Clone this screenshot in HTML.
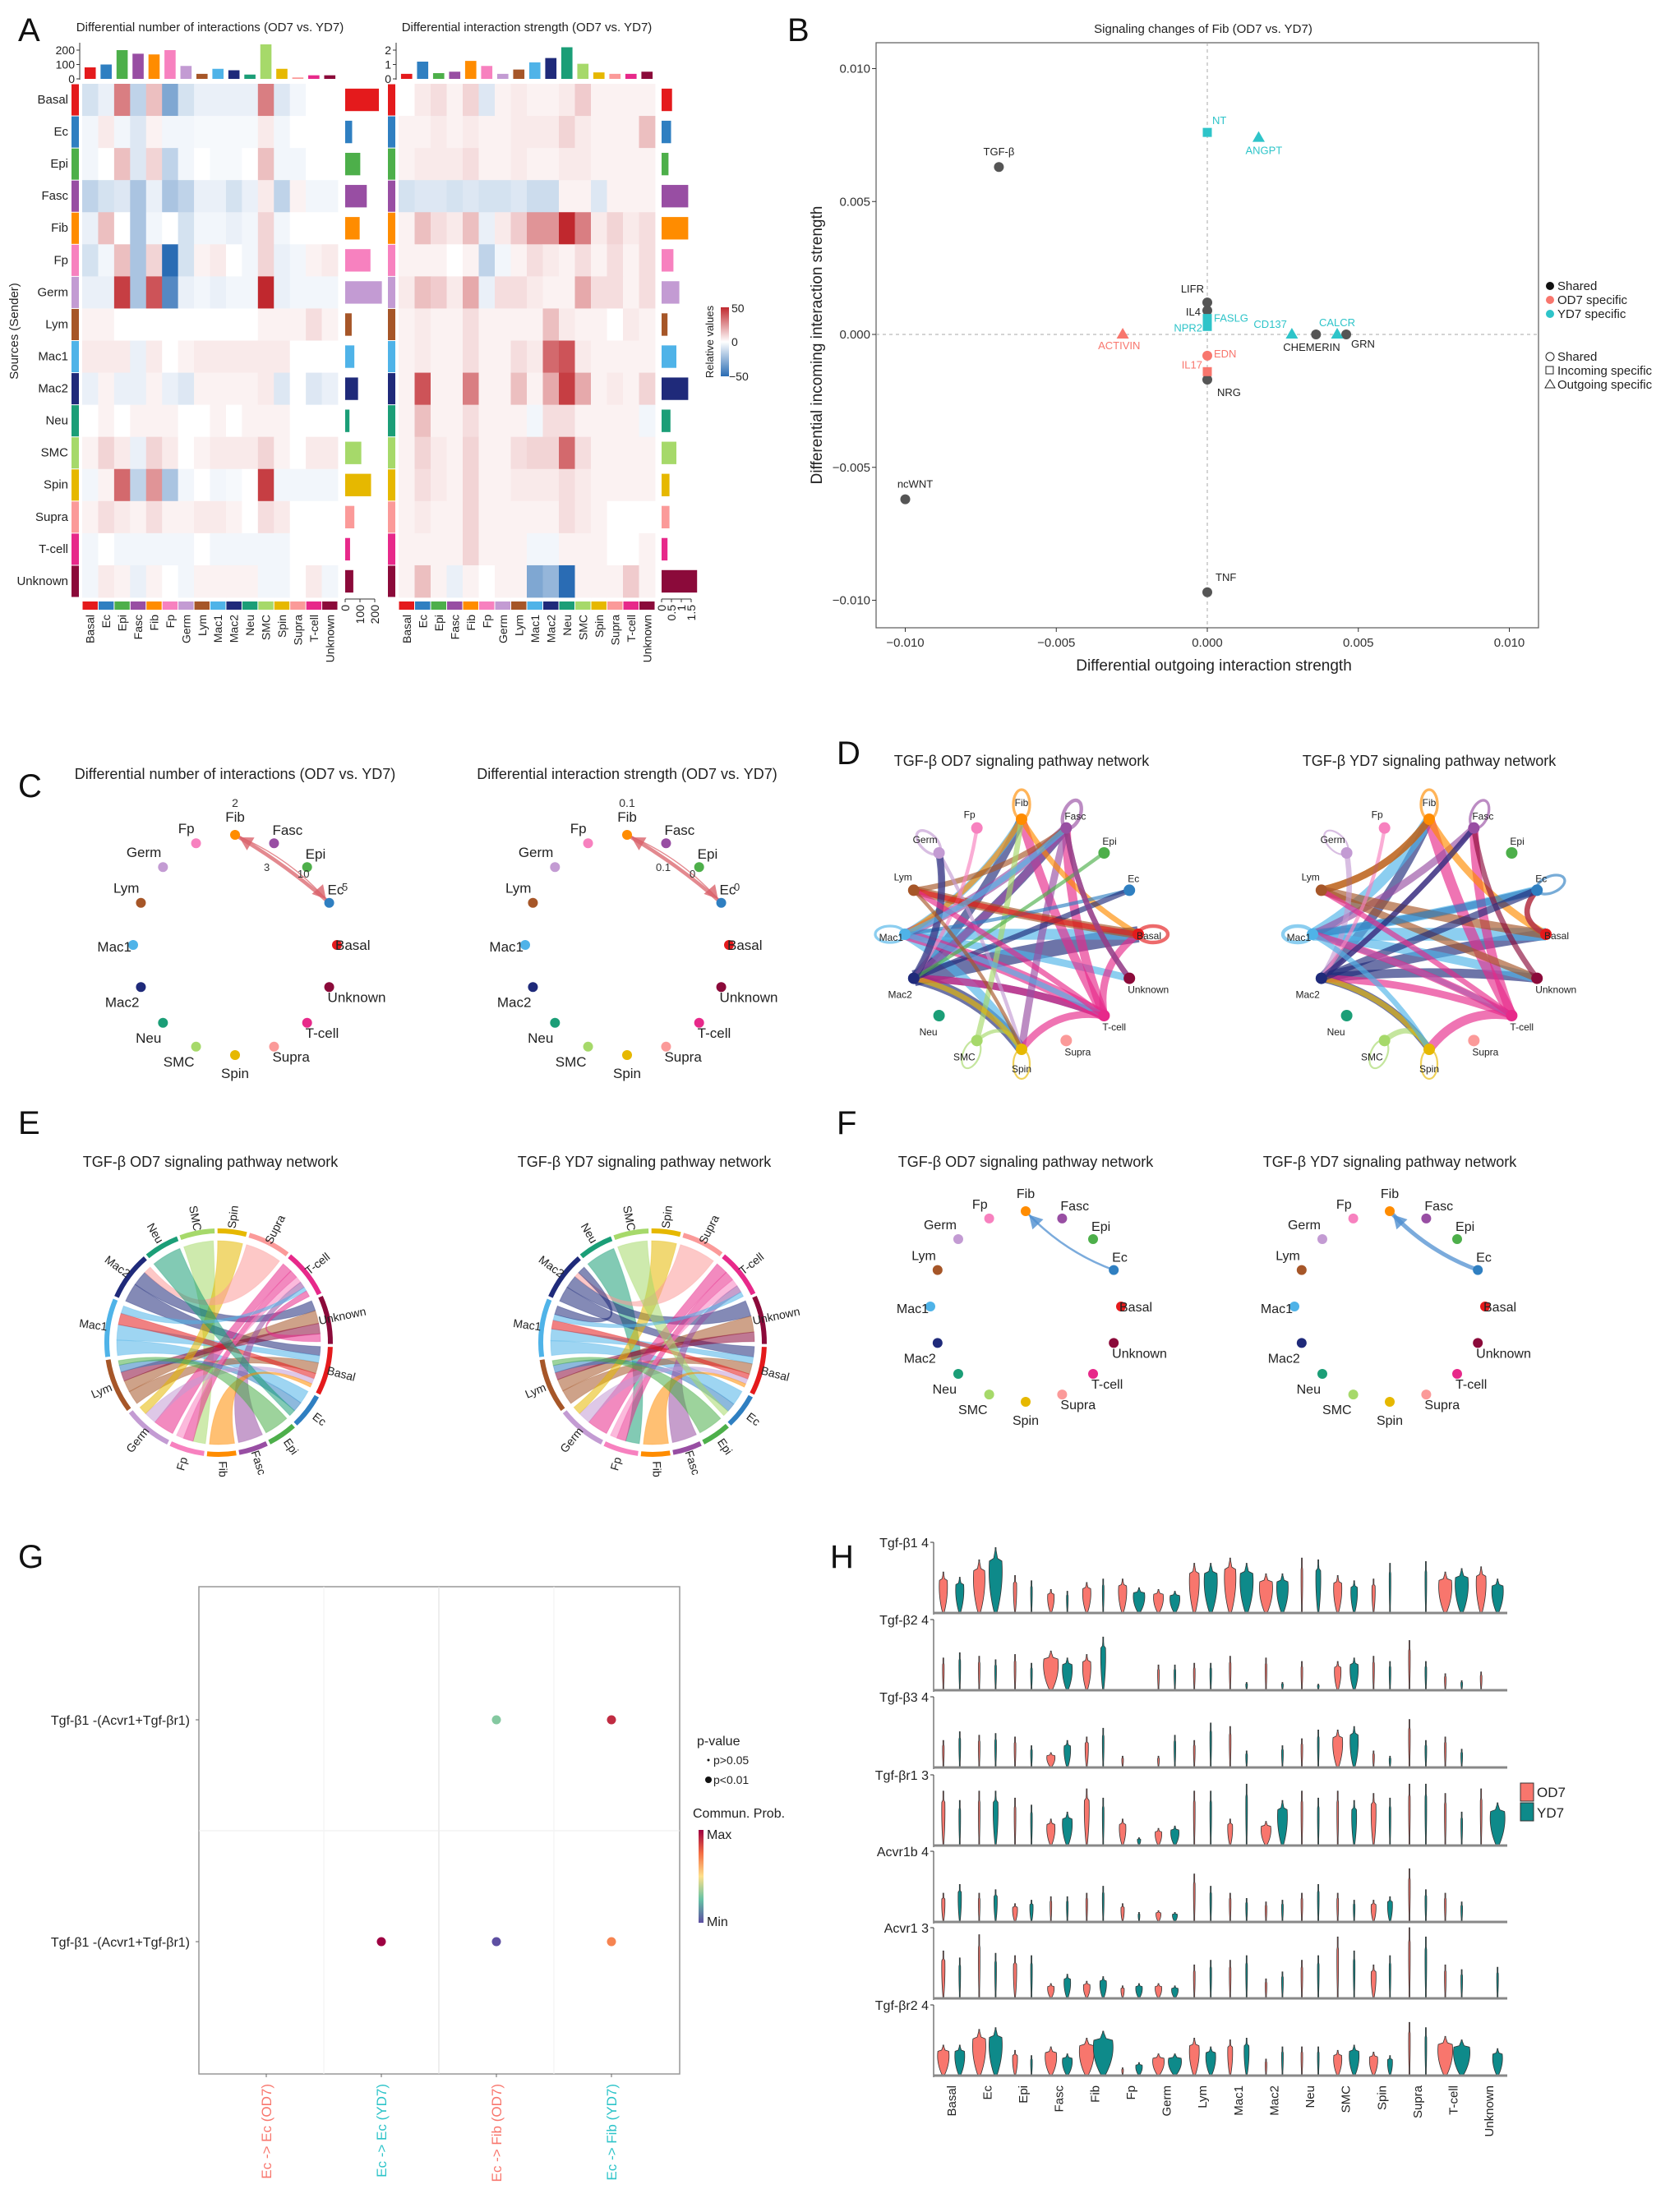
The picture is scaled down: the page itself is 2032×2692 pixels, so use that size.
<!DOCTYPE html>
<html><head><meta charset="utf-8"><style>
html,body{margin:0;padding:0;background:#fff;}
svg{display:block;font-family:"Liberation Sans",Arial,sans-serif;}
</style></head><body>
<svg id="fig" xmlns="http://www.w3.org/2000/svg" width="2032" height="2692" viewBox="0 0 2032 2692">
<defs>
<linearGradient id="relgrad" x1="0" y1="0" x2="0" y2="1"><stop offset="0" stop-color="#c0282e"/><stop offset="0.5" stop-color="#ffffff"/><stop offset="1" stop-color="#2a6cb4"/></linearGradient>
<linearGradient id="probgrad" x1="0" y1="0" x2="0" y2="1"><stop offset="0" stop-color="#9e0142"/><stop offset="0.25" stop-color="#f46d43"/><stop offset="0.5" stop-color="#fee08b"/><stop offset="0.75" stop-color="#66c2a5"/><stop offset="1" stop-color="#5e4fa2"/></linearGradient>
</defs>
</svg>
<script>
// ---------- data ----------
const cells=["Basal","Ec","Epi","Fasc","Fib","Fp","Germ","Lym","Mac1","Mac2","Neu","SMC","Spin","Supra","T-cell","Unknown"];
const cellColors=["#e41a1c","#2f7fc1","#4daf4a","#984ea3","#ff8c00","#f781bf","#c39bd3","#a65628","#4fb3e8","#1f2a7a","#1b9e77","#a6d96a","#e6b800","#fb9a99","#e7298a","#8b0a3a"];
const countMat=[
[-10,-5,30,-15,15,-30,-10,-5,-5,-5,-5,30,-8,-3,0,0],
[-3,5,-3,-8,3,-3,-3,-2,-2,-2,-2,5,-3,0,0,0],
[-3,0,15,-8,10,-15,-3,0,-2,-2,0,15,-3,-3,0,0],
[-15,-10,-8,-20,-5,-20,-15,-5,-5,-10,-5,5,-15,3,-3,-3],
[-5,15,0,-20,-3,0,-10,-3,-3,-5,-3,10,-3,0,0,0],
[-10,-3,15,-20,10,-55,-10,3,5,0,-3,10,-5,-3,3,5],
[-5,-5,45,-20,40,-40,-5,-3,-5,-3,-3,50,-5,-3,-3,-3],
[3,3,0,0,0,0,0,0,0,0,0,3,3,3,8,3],
[5,5,5,-5,5,0,3,5,5,5,5,5,5,0,0,0],
[-5,3,-5,-5,3,-5,-8,3,3,3,3,5,-8,0,-8,-5],
[0,3,0,3,3,3,0,0,3,0,3,3,3,0,0,0],
[3,10,5,-5,10,5,0,3,5,5,5,10,3,0,5,5],
[-3,3,35,-15,25,-20,-3,0,-3,-2,0,45,-3,-3,-3,-3],
[3,8,5,3,8,3,3,5,5,3,0,8,5,0,0,0],
[-3,0,-3,-3,-3,-3,-3,0,-3,-3,-3,-3,-3,0,0,0],
[-3,5,3,-5,3,0,-3,3,3,3,3,-3,-3,0,5,-3]];
const strengthMat=[
[0,5,8,3,10,-8,3,5,3,3,5,12,3,3,3,3],
[3,3,5,3,5,3,3,5,5,5,10,5,3,3,3,15],
[3,5,5,5,8,3,3,5,3,3,5,5,3,3,3,3],
[-10,-8,-8,-10,-8,-10,-10,-8,-12,-12,3,3,-8,3,3,3],
[3,15,8,5,15,-5,5,12,25,25,50,30,5,10,5,8],
[3,3,3,0,3,-15,-3,3,8,5,3,8,3,8,3,8],
[5,15,12,5,20,-5,8,8,5,3,3,20,8,8,3,8],
[3,5,3,3,8,3,3,3,3,15,5,3,3,0,5,3],
[3,5,3,3,8,3,3,8,5,35,40,5,3,3,3,3],
[3,40,3,3,30,3,3,15,3,20,45,20,3,5,3,10],
[3,15,3,3,8,3,3,3,-3,8,8,3,3,3,3,-3],
[3,10,5,3,10,3,3,8,10,10,35,8,3,3,3,3],
[3,8,5,3,10,3,3,5,5,5,8,5,3,3,3,3],
[3,5,3,3,10,3,3,3,3,3,8,5,3,0,0,0],
[3,3,3,3,10,3,3,3,-3,-3,3,3,3,0,0,3],
[3,15,3,-5,3,0,3,3,-30,-25,-55,3,3,3,12,3]];
const countColSums=[80,100,200,175,170,200,90,35,70,60,30,240,70,10,25,25];
const strengthColSums=[0.35,1.2,0.4,0.5,1.25,0.9,0.35,0.65,1.15,1.45,2.2,1.05,0.45,0.35,0.35,0.5];
const countRowSums=[228,47,102,146,98,171,248,44,62,87,29,109,175,62,33,55];
const strengthRowSums=[0.53,0.48,0.35,1.35,1.35,0.6,0.9,0.3,0.75,1.35,0.45,0.75,0.4,0.4,0.3,1.8];
const countTicks=[0,100,200];
const strengthTicks=[0,1,2];
const countRowTicks=[0,100,200];
const strengthRowTicks=[0,0.5,1,1.5];

// Panel B
const bNames=["TGF-β","ncWNT","TNF","NRG","LIFR","IL4","CHEMERIN","GRN","NT","ANGPT","FASLG","NPR2","CD137","CALCR","ACTIVIN","EDN","IL17"];
const bX=[-0.0069,-0.0100,0,0,0,0,0.0036,0.0046,0,0.0017,0,0,0.0028,0.0043,-0.0028,0,0];
const bY=[0.0063,-0.0062,-0.0097,-0.0017,0.0012,0.0009,0,0,0.0076,0.0074,0.0006,0.0003,0,0,0,-0.0008,-0.0014];
const bGroup=[0,0,0,0,0,0,0,0,2,2,2,2,2,2,1,1,1];
const bShape=[0,0,0,0,0,0,0,0,1,2,1,1,2,2,2,0,1];
const bTicks=[-0.010,-0.005,0.000,0.005,0.010];

// Panel D networks (source, target, weight)
const odSrc=[9,9,9,9,9,8,8,8,8,14,14,14,14,14,3,3,3,4,4,7,7,6,6,11,11,12,1,0,15,9,8,14,5,2,4,3,6,8,0,12,11,9,14,8,3,7];
const odTgt=[0,4,3,14,12,0,4,15,12,4,3,9,8,0,8,9,12,0,8,0,3,9,12,4,12,9,8,0,3,1,14,12,9,9,4,3,6,8,7,12,11,6,7,3,15,12];
const odW=[9,5,5,4,6,6,4,4,5,5,5,4,6,4,5,4,4,3,3,5,3,3,2,3,2,3,2,4,3,3,3,4,2,2,3,4,3,3,3,2,2,4,3,3,3,2];
const ydSrc=[9,9,9,9,8,8,8,8,14,14,14,14,3,3,4,4,7,7,6,11,12,1,1,0,15,9,8,14,5,4,3,1,8,6,11,12,7,9,14,8];
const ydTgt=[0,4,15,12,0,4,15,1,4,3,9,12,8,9,0,7,0,15,9,12,9,8,0,1,3,1,14,8,9,4,3,1,8,6,11,12,4,3,7,12];
const ydW=[6,5,5,4,7,6,5,5,6,5,4,5,4,3,4,4,5,4,3,3,3,4,3,3,3,4,3,4,2,3,3,3,4,2,2,2,4,3,3,3];

// Panel E chords
const chordOrder=[11,12,13,14,15,0,1,2,3,4,5,6,7,8,9,10];
const chordSizes=[18,15,22,25,25,25,18,15,15,15,18,25,28,30,25,18];
const odChSrc=[11,9,9,8,8,7,7,14,14,15,5,0,1,3,6,12,13,10,4,2,8,14];
const odChTgt=[5,0,15,1,0,0,15,6,5,7,14,8,7,14,0,6,9,1,0,7,14,15];
const odChW=[5,5,4,4,4,6,5,5,4,4,3,3,3,3,3,2,2,2,2,2,2,3];
const ydChSrc=[10,9,9,8,8,7,7,14,14,15,5,0,1,3,6,12,13,11,4,2,8,9];
const ydChTgt=[5,0,15,1,0,0,15,6,5,7,14,8,7,14,0,6,9,1,0,7,14,8];
const ydChW=[6,6,5,5,4,6,5,5,4,3,3,3,3,3,3,2,2,2,2,2,2,3];

// Panel C/F edges
const cSrc=[1,4]; const cTgt=[4,1]; const cW=[10,3];

// Panel G
const gCols=["Ec -> Ec (OD7)","Ec -> Ec (YD7)","Ec -> Fib (OD7)","Ec -> Fib (YD7)"];
const gRows=["Tgf-β1 -(Acvr1+Tgf-βr1)","Tgf-β1 -(Acvr1+Tgf-βr1)"];
const gDotRow=[0,0,1,1,1];
const gDotCol=[2,3,1,2,3];
const gDotProb=[0.3,0.9,1.0,0.0,0.7];

// Panel H violins
const genes=["Tgf-β1","Tgf-β2","Tgf-β3","Tgf-βr1","Acvr1b","Acvr1","Tgf-βr2"];
const geneMax=[4,4,4,3,4,3,4];
const odH=[
[2.3,3.0,2.1,1.3,1.7,1.9,1.3,2.8,3.1,2.2,3.1,2.1,1.9,0,2.3,2.6],
[1.8,1.9,2.0,2.2,2.0,0,1.4,1.5,1.9,1.8,1.6,1.6,1.9,2.8,0.9,1.0],
[1.5,1.8,1.7,0.8,1.7,0.6,0.6,1.5,2.3,0,1.6,2.1,0.9,2.7,1.7,0],
[2.3,2.3,2.0,1.1,2.4,1.1,0.7,2.3,1.1,1.0,2.3,2.3,2.2,2.6,2.2,2.4],
[1.6,1.6,1.0,1.4,1.6,1.0,0.6,2.7,1.6,1.1,1.6,1.6,1.2,3.0,1.6,0],
[2.0,2.7,1.8,0.6,0.7,0.5,0.6,1.4,1.6,0.8,1.6,2.6,1.4,3.0,1.4,0],
[1.7,2.6,1.4,1.6,2.1,0.4,1.2,2.1,2.0,0.9,1.6,1.4,1.3,3.0,2.2,0]];
const odWd=[
[5,7,2,4,5,5,6,6,7,8,1,5,2,0,8,6],
[1,1,1,9,5,0,1,1,1,1,1,4,1,1,1,1],
[1,1,1,5,2,1,1,1,1,0,1,6,1,1,1,0],
[2,1,1,5,3,4,4,1,3,6,1,1,3,1,1,1],
[2,1,3,1,1,2,3,1,1,1,1,1,3,1,1,0],
[2,1,2,4,4,2,4,1,1,1,1,1,3,1,1,0],
[7,8,3,7,9,1,7,6,3,1,1,5,5,1,9,0]];
const ydH=[
[2.0,3.7,1.8,1.2,1.9,1.4,1.2,2.8,2.8,2.2,3.0,1.8,2.8,2.9,2.5,1.9],
[2.1,1.7,1.5,1.8,3.0,0,1.4,1.5,0.4,0.4,0.3,1.8,1.6,1.6,0.5,0],
[2.0,1.9,1.2,1.5,2.2,0,1.8,2.5,0.9,1.2,2.1,2.3,0.6,1.5,1.0,0],
[1.9,2.3,1.7,1.4,2.0,0.3,0.8,2.3,2.6,1.9,2.0,1.9,2.0,2.6,1.4,1.8],
[2.1,1.8,1.2,1.4,2.0,0.5,0.5,2.0,1.3,1.2,2.1,1.2,1.4,1.8,1.1,0],
[1.7,1.9,1.8,1.0,0.9,0.6,0.5,1.6,1.8,1.1,1.8,2.0,1.8,2.6,1.2,1.3],
[1.7,2.7,1.1,1.2,2.5,0.7,1.2,1.6,2.1,1.6,1.6,1.7,1.1,2.7,2.0,1.5]];
const ydWd=[
[5,8,1,1,1,7,6,8,8,7,3,4,1,1,8,7],
[1,1,1,6,3,0,1,1,1,1,1,5,1,1,1,0],
[1,1,1,4,1,0,1,1,1,1,1,5,1,1,1,0],
[1,3,1,6,1,2,5,1,1,6,1,3,1,1,1,9],
[2,2,2,1,1,1,3,1,1,1,1,1,3,1,1,0],
[1,1,1,4,4,4,4,1,1,1,1,1,1,1,1,1],
[6,8,1,6,12,4,8,6,3,1,1,6,3,1,10,6]];

// ---------- helpers ----------
const NS='http://www.w3.org/2000/svg';
const svg=document.getElementById('fig');
function mk(tag,attrs,parent){const e=document.createElementNS(NS,tag);for(const k in attrs)e.setAttribute(k,attrs[k]);(parent||svg).appendChild(e);return e;}
function txt(x,y,s,attrs,parent){const e=mk('text',Object.assign({x:x,y:y},attrs||{}),parent);e.textContent=s;return e;}
function grp(name,parent){const g=mk('g',{},parent);return g;}
function lerp(a,b,t){return Math.round(a+(b-a)*t);}
function divColor(v){let t=Math.max(-1,Math.min(1,v/50));let c=t>=0?[192,40,46]:[42,108,180];t=Math.abs(t);return 'rgb('+lerp(255,c[0],t)+','+lerp(255,c[1],t)+','+lerp(255,c[2],t)+')';}
function probColor(p){const st=[[94,79,162],[102,194,165],[254,224,139],[244,109,67],[158,1,66]];const s=p*4;const i=Math.min(3,Math.floor(s));const t=s-i;return 'rgb('+lerp(st[i][0],st[i+1][0],t)+','+lerp(st[i][1],st[i+1][1],t)+','+lerp(st[i][2],st[i+1][2],t)+')';}

// ---------- panel letters ----------
[["A",22,50],["B",958,50],["C",22,970],["D",1018,930],["E",22,1380],["F",1018,1380],["G",22,1908],["H",1010,1908]].forEach(function(p){
  const t=txt(p[1],p[2],p[0],{'font-size':40,fill:'#111'});
  
  
});

// ---------- Panel A ----------
function heatPanel(opt){
  const g=grp(opt.name);
  const n=16, cw=opt.w/n, ch=625/n, y0=102;
  txt(opt.x0+opt.w/2,38,opt.title,{'font-size':15,'text-anchor':'middle',fill:'#222'},g);
  for(let r=0;r<n;r++)for(let c=0;c<n;c++){
    const e=mk('rect',{x:opt.x0+c*cw,y:y0+r*ch,width:cw+0.4,height:ch+0.4,fill:divColor(opt.mat[r][c])},g);
    
    
  }
  for(let i=0;i<n;i++){
    mk('rect',{x:opt.x0-13,y:y0+i*ch+0.5,width:9,height:ch-1,fill:cellColors[i]},g);
    mk('rect',{x:opt.x0+i*cw+0.5,y:732,width:cw-1,height:10,fill:cellColors[i]},g);
    const lb=txt(opt.x0+i*cw+cw/2+5,748,cells[i],{'font-size':14,'text-anchor':'end',fill:'#222',transform:'rotate(-90 '+(opt.x0+i*cw+cw/2+5)+' 748)'},g);
    
    
  }
  const tmax=opt.topTicks[opt.topTicks.length-1];
  const ty=function(v){return 96-v*(35/tmax);};
  for(let i=0;i<n;i++){
    const b=mk('rect',{x:opt.x0+i*cw+cw*0.15,y:ty(opt.colSums[i]),width:cw*0.7,height:96-ty(opt.colSums[i]),fill:cellColors[i]},g);
    
    
  }
  mk('line',{x1:opt.x0-3,y1:52,x2:opt.x0-3,y2:97,stroke:'#333','stroke-width':1},g);
  opt.topTicks.forEach(function(t){mk('line',{x1:opt.x0-7,y1:ty(t),x2:opt.x0-3,y2:ty(t),stroke:'#333'},g);txt(opt.x0-9,ty(t)+5,String(t),{'font-size':14,'text-anchor':'end',fill:'#222'},g);});
  const rx=opt.rbx, rmax=opt.rowTicks[opt.rowTicks.length-1];
  const rs=opt.rbw/rmax;
  for(let i=0;i<n;i++){
    const b=mk('rect',{x:rx,y:y0+i*ch+ch*0.15,width:opt.rowSums[i]*rs,height:ch*0.7,fill:cellColors[i]},g);
    
    
  }
  mk('line',{x1:rx,y1:729,x2:rx+opt.rbw,y2:729,stroke:'#333'},g);
  opt.rowTicks.forEach(function(t){const xx=rx+t*rs;mk('line',{x1:xx,y1:729,x2:xx,y2:733},g).setAttribute('stroke','#333');txt(xx+5,736,String(t),{'font-size':14,'text-anchor':'end',fill:'#222',transform:'rotate(-90 '+(xx+5)+' 736)'},g);});
  return g;
}
heatPanel({name:'heatmap-count',x0:100,w:311,mat:countMat,colSums:countColSums,rowSums:countRowSums,topTicks:countTicks,rowTicks:countRowTicks,rbx:420,rbw:36,title:'Differential number of interactions (OD7 vs. YD7)'});
heatPanel({name:'heatmap-strength',x0:485,w:312,mat:strengthMat,colSums:strengthColSums,rowSums:strengthRowSums,topTicks:strengthTicks,rowTicks:strengthRowTicks,rbx:805,rbw:36,title:'Differential interaction strength (OD7 vs. YD7)'});
(function(){
  const g=grp('heatmap-row-labels');
  for(let i=0;i<16;i++){const t=txt(83,102+i*39.06+24,cells[i],{'font-size':15,'text-anchor':'end',fill:'#222'},g);}
  const yt=txt(22,403,'Sources (Sender)',{'font-size':15,'text-anchor':'middle',fill:'#222',transform:'rotate(-90 22 403)'},g);
  
  
  const lg=grp('relative-values-legend');
  mk('rect',{x:877,y:374,width:10,height:84,fill:'url(#relgrad)'},lg);
  txt(890,380,'50',{'font-size':14,fill:'#222'},lg);
  txt(890,421,'0',{'font-size':14,fill:'#222'},lg);
  txt(887,463,'−50',{'font-size':14,fill:'#222'},lg);
  txt(868,416,'Relative values',{'font-size':13,'text-anchor':'middle',fill:'#222',transform:'rotate(-90 868 416)'},lg);
})();

// ---------- Panel B ----------
(function(){
  const g=grp('scatter-signaling-changes');
  const X0=1066,X1=1872,Y0=52,Y1=764;
  const sx=function(v){return 1469+v*36750;};
  const sy=function(v){return 407-v*32350;};
  txt(1464,40,'Signaling changes of Fib (OD7 vs. YD7)',{'font-size':15,'text-anchor':'middle',fill:'#222'},g);
  mk('rect',{x:X0,y:Y0,width:X1-X0,height:Y1-Y0,fill:'none',stroke:'#666','stroke-width':1.3},g);
  mk('line',{x1:sx(0),y1:Y0,x2:sx(0),y2:Y1,stroke:'#aaa','stroke-dasharray':'4,4'},g);
  mk('line',{x1:X0,y1:sy(0),x2:X1,y2:sy(0),stroke:'#aaa','stroke-dasharray':'4,4'},g);
  bTicks.forEach(function(t){
    const lab=(t<0?'−':'')+Math.abs(t).toFixed(3);
    mk('line',{x1:sx(t),y1:Y1,x2:sx(t),y2:Y1+5,stroke:'#333'},g);
    txt(sx(t),Y1+23,lab,{'font-size':15,'text-anchor':'middle',fill:'#333'},g);
    mk('line',{x1:X0-5,y1:sy(t),x2:X0,y2:sy(t),stroke:'#333'},g);
    txt(X0-7,sy(t)+5,lab,{'font-size':15,'text-anchor':'end',fill:'#333'},g);
  });
  const xt=txt(1477,816,'Differential outgoing interaction strength',{'font-size':19,'text-anchor':'middle',fill:'#222'},g);
  
  
  const yt=txt(1000,420,'Differential incoming interaction strength',{'font-size':19,'text-anchor':'middle',fill:'#222',transform:'rotate(-90 1000 420)'},g);
  
  
  const gcol=['#555555','#f8766d','#2ec4c9'];
  const ldx=[0,12,10,12,-4,-8,-40,6,6,-16,8,-6,-6,0,-30,8,-6];
  const ldy=[-14,-14,-14,20,-12,6,20,16,-10,20,4,6,-8,-10,18,2,-4];
  const lanc=['middle','middle','start','start','end','end','start','start','start','start','start','end','end','middle','start','start','end'];
  for(let i=0;i<bNames.length;i++){
    const x=sx(bX[i]),y=sy(bY[i]),c=gcol[bGroup[i]];
    let m;
    if(bShape[i]===0)m=mk('circle',{cx:x,cy:y,r:6,fill:c},g);
    else if(bShape[i]===1)m=mk('rect',{x:x-5.5,y:y-5.5,width:11,height:11,fill:c},g);
    else m=mk('polygon',{points:(x)+','+(y-8)+' '+(x-7.5)+','+(y+5)+' '+(x+7.5)+','+(y+5),fill:c},g);
    
    
    txt(x+ldx[i],y+ldy[i],bNames[i],{'font-size':13,'text-anchor':lanc[i],fill:bGroup[i]===0?'#222':c},g);
  }
  const lg=grp('scatter-legend',g);
  [['Shared','#111'],['OD7 specific','#f8766d'],['YD7 specific','#2ec4c9']].forEach(function(d,i){mk('circle',{cx:1886,cy:348+i*17,r:5,fill:d[1]},lg);txt(1895,353+i*17,d[0],{'font-size':15,fill:'#222'},lg);});
  mk('circle',{cx:1886,cy:434,r:5,fill:'none',stroke:'#222'},lg);txt(1895,439,'Shared',{'font-size':15,fill:'#222'},lg);
  mk('rect',{x:1881,y:446,width:9,height:9,fill:'none',stroke:'#222'},lg);txt(1895,456,'Incoming specific',{'font-size':15,fill:'#222'},lg);
  mk('polygon',{points:'1886,462 1880,472 1892,472',fill:'none',stroke:'#222'},lg);txt(1895,473,'Outgoing specific',{'font-size':15,fill:'#222'},lg);
})();

// ---------- circle layouts ----------
function nodePos(cx,cy,rx,ry,i){const a=i*22.5*Math.PI/180;return [cx+rx*Math.cos(a),cy-ry*Math.sin(a)];}
function circleNodes(g,cx,cy,rx,ry,fs,nr){
  for(let i=0;i<16;i++){
    const p=nodePos(cx,cy,rx,ry,i);
    const n=mk('circle',{cx:p[0],cy:p[1],r:nr,fill:cellColors[i]},g);
    
    
    const a=i*22.5*Math.PI/180,c=Math.cos(a),s=Math.sin(a);
    let anc='middle',dx=0,dy=0;
    if(c>0.3){anc='start';dx=-2;dy=s>0.3?-10:(s<-0.3?18:6);}
    else if(c<-0.3){anc='end';dx=-2;dy=s>0.3?-12:(s<-0.3?24:8);}
    else{dy=s>0?-16:28;}
    txt(p[0]+dx,p[1]+dy,cells[i],{'font-size':fs,'text-anchor':anc,fill:'#222'},g);
  }
}
function arrowEdge(g,p1,p2,bend,w,col,name){
  const mx=(p1[0]+p2[0])/2,my=(p1[1]+p2[1])/2,dx=p2[0]-p1[0],dy=p2[1]-p1[1];
  const qx=mx-dy*bend,qy=my+dx*bend;
  const e=mk('path',{d:'M'+p1[0]+','+p1[1]+' Q'+qx+','+qy+' '+p2[0]+','+p2[1],fill:'none',stroke:col,'stroke-width':w,'stroke-opacity':0.75},g);
  
  
  const ang=Math.atan2(p2[1]-qy,p2[0]-qx),L=16,W=9;
  const tx=p2[0]-Math.cos(ang)*6,ty=p2[1]-Math.sin(ang)*6;
  mk('polygon',{points:tx+','+ty+' '+(tx-L*Math.cos(ang)+W*Math.sin(ang))+','+(ty-L*Math.sin(ang)-W*Math.cos(ang))+' '+(tx-L*Math.cos(ang)-W*Math.sin(ang))+','+(ty-L*Math.sin(ang)+W*Math.cos(ang)),fill:col,'fill-opacity':0.8},g);
  return [qx,qy];
}

// ---------- Panel C ----------
[[286,'Differential number of interactions (OD7 vs. YD7)',['2','10','3','5']],[763,'Differential interaction strength (OD7 vs. YD7)',['0.1','0','0.1','0']]].forEach(function(cfg,k){
  const g=grp('diff-network-'+(k?'strength':'count'));
  const cx=cfg[0],cy=1150;
  txt(cx,948,cfg[1],{'font-size':18,'text-anchor':'middle',fill:'#222'},g);
  for(let e=0;e<cSrc.length;e++){
    const p1=nodePos(cx,cy,124,134,cSrc[e]),p2=nodePos(cx,cy,124,134,cTgt[e]);
    arrowEdge(g,p1,p2,e?-0.12:0.05,cW[e]*0.45,'#d9626a','edge-'+cells[cSrc[e]].toLowerCase()+'-'+cells[cTgt[e]].toLowerCase());
  }
  circleNodes(g,cx,cy,124,134,17,6);
  txt(cx,982,cfg[2][0],{'font-size':14,'text-anchor':'middle',fill:'#333'},g);
  txt(cx+76,1068,cfg[2][1],{'font-size':13,fill:'#333'},g);
  txt(cx+35,1060,cfg[2][2],{'font-size':13,fill:'#333'},g);
  txt(cx+130,1084,cfg[2][3],{'font-size':13,fill:'#333'},g);
});

// ---------- Panel D ----------
function network(cx,cy,title,src,tgt,w,name){
  const g=grp(name);
  txt(cx,932,title,{'font-size':18,'text-anchor':'middle',fill:'#222'},g);
  const rx=142,ry=140;
  for(let e=0;e<src.length;e++){
    const p1=nodePos(cx,cy,rx,ry,src[e]);
    let el;
    if(src[e]===tgt[e]){
      const a=src[e]*22.5*Math.PI/180,ox=Math.cos(a),oy=-Math.sin(a);
      el=mk('ellipse',{cx:p1[0]+ox*18,cy:p1[1]+oy*18,rx:18,ry:10,transform:'rotate('+(-src[e]*22.5)+' '+(p1[0]+ox*18)+' '+(p1[1]+oy*18)+')',fill:'none',stroke:cellColors[src[e]],'stroke-width':w[e]*1.1,'stroke-opacity':0.65},g);
    }else{
      const p2=nodePos(cx,cy,rx,ry,tgt[e]);
      const mx=(p1[0]+p2[0])/2,my=(p1[1]+p2[1])/2;
      const qx=mx+(cx-mx)*0.25,qy=my+(cy-my)*0.25;
      el=mk('path',{d:'M'+p1[0]+','+p1[1]+' Q'+qx+','+qy+' '+p2[0]+','+p2[1],fill:'none',stroke:cellColors[src[e]],'stroke-width':w[e]*2.2,'stroke-opacity':0.65},g);
    }
    
    
  }
  circleNodes(g,cx,cy,rx,ry,12,7);
}
network(1243,1137,'TGF-β OD7 signaling pathway network',odSrc,odTgt,odW,'network-od7');
network(1739,1137,'TGF-β YD7 signaling pathway network',ydSrc,ydTgt,ydW,'network-yd7');

// ---------- Panel E ----------
function chord(cx,cy,title,src,tgt,w,name){
  const g=grp(name);
  txt(cx-10,1420,title,{'font-size':18,'text-anchor':'middle',fill:'#222'},g);
  const R=128,gap=1.5;
  const tot=chordSizes.reduce(function(a,b){return a+b;},0);
  const per=(360-gap*16)/tot;
  const start={},end={};let a=-20;
  chordOrder.forEach(function(ci,k){start[ci]=a;end[ci]=a+chordSizes[k]*per;a=end[ci]+gap;});
  const P=function(r,deg){const t=deg*Math.PI/180;return [cx+r*Math.sin(t),cy-r*Math.cos(t)];};
  const used={};cells.forEach(function(_,i){used[i]=0;});
  const need={};cells.forEach(function(_,i){need[i]=0;});
  for(let e=0;e<src.length;e++){need[src[e]]+=w[e];need[tgt[e]]+=w[e];}
  function slot(ci,ww){const span=end[ci]-start[ci];const sc=span/Math.max(need[ci],1)*0.95;const s0=start[ci]+used[ci]*sc;used[ci]+=ww;return [s0,s0+ww*sc];}
  for(let e=0;e<src.length;e++){
    const s=slot(src[e],w[e]),t=slot(tgt[e],w[e]);
    const r=R-4;
    const a0=P(r,s[0]),a1=P(r,s[1]),b0=P(r,t[0]),b1=P(r,t[1]);
    const d='M'+a0+' A'+r+','+r+' 0 0,1 '+a1+' Q'+cx+','+cy+' '+b0+' A'+r+','+r+' 0 0,1 '+b1+' Q'+cx+','+cy+' '+a0+' Z';
    const rb=mk('path',{d:d,fill:cellColors[src[e]],'fill-opacity':0.55,stroke:cellColors[src[e]],'stroke-opacity':0.3},g);
    
    
  }
  chordOrder.forEach(function(ci){
    const o0=P(R+8,start[ci]),o1=P(R+8,end[ci]);
    const arc=mk('path',{d:'M'+o0+' A'+(R+8)+','+(R+8)+' 0 0,1 '+o1,fill:'none',stroke:cellColors[ci],'stroke-width':6},g);
    
    
    const mid=(start[ci]+end[ci])/2,lp=P(R+26,mid);
    txt(lp[0],lp[1],cells[ci],{'font-size':14,fill:'#222','text-anchor':'middle','dominant-baseline':'middle',transform:'rotate('+(((mid%360)+360)%360>180?mid+90:mid-90)+' '+lp[0]+' '+lp[1]+')'},g);
  });
}
chord(266,1634,'TGF-β OD7 signaling pathway network',odChSrc,odChTgt,odChW,'chord-od7');
chord(794,1634,'TGF-β YD7 signaling pathway network',ydChSrc,ydChTgt,ydChW,'chord-yd7');

// ---------- Panel F ----------
[[1248,'TGF-β OD7 signaling pathway network',2.5],[1691,'TGF-β YD7 signaling pathway network',5]].forEach(function(cfg,k){
  const g=grp('ec-fib-network-'+(k?'yd7':'od7'));
  const cx=cfg[0],cy=1590;
  txt(cx,1420,cfg[1],{'font-size':18,'text-anchor':'middle',fill:'#222'},g);
  arrowEdge(g,nodePos(cx,cy,116,116,1),nodePos(cx,cy,116,116,4),-0.12,cfg[2],'#4f8fd0','edge-ec-fib');
  circleNodes(g,cx,cy,116,116,16,6);
});

// ---------- Panel G ----------
(function(){
  const g=grp('dotplot-ligand-receptor');
  const X0=242,X1=827,Y0=1931,Y1=2524;
  const colX=function(i){return 324+i*140;};
  const rowY=function(i){return 2093+i*270;};
  mk('rect',{x:X0,y:Y0,width:X1-X0,height:Y1-Y0,fill:'none',stroke:'#999','stroke-width':1.5},g);
  mk('line',{x1:534,y1:Y0,x2:534,y2:Y1,stroke:'#ddd'},g);
  mk('line',{x1:X0,y1:2228,x2:X1,y2:2228,stroke:'#eee'},g);
  [394,674].forEach(function(x){mk('line',{x1:x,y1:Y0,x2:x,y2:Y1,stroke:'#f2f2f2'},g);});
  gRows.forEach(function(r,i){const t=txt(231,rowY(i)+6,r,{'font-size':16,'text-anchor':'end',fill:'#222'},g);mk('line',{x1:X0-4,y1:rowY(i),x2:X0,y2:rowY(i),stroke:'#666'},g);});
  gCols.forEach(function(c,i){const x=colX(i);const col=(i%2===0)?'#f8766d':'#2ec4c9';const t=txt(x+6,2536,c,{'font-size':17,'text-anchor':'end',fill:col,transform:'rotate(-90 '+(x+6)+' 2536)'},g);mk('line',{x1:x,y1:Y1,x2:x,y2:Y1+4,stroke:'#666'},g);});
  for(let i=0;i<gDotRow.length;i++){const d=mk('circle',{cx:colX(gDotCol[i]),cy:rowY(gDotRow[i]),r:5.5,fill:probColor(gDotProb[i])},g);}
  const lg=grp('dotplot-legend',g);
  txt(848,2124,'p-value',{'font-size':16,fill:'#222'},lg);
  mk('circle',{cx:862,cy:2142,r:1.5,fill:'#111'},lg);txt(868,2147,'p>0.05',{'font-size':14,fill:'#222'},lg);
  mk('circle',{cx:862,cy:2166,r:4,fill:'#111'},lg);txt(868,2171,'p<0.01',{'font-size':14,fill:'#222'},lg);
  txt(843,2212,'Commun. Prob.',{'font-size':16,fill:'#222'},lg);
  mk('rect',{x:850,y:2227,width:6,height:113,fill:'url(#probgrad)'},lg);
  txt(860,2238,'Max',{'font-size':16,fill:'#222'},lg);
  txt(860,2344,'Min',{'font-size':16,fill:'#222'},lg);
})();

// ---------- Panel H ----------
(function(){
  const g=grp('violin-plots');
  const X0=1136,X1=1834,gw=(X1-X0)/16;
  const base=[1962,2056,2150,2245,2338,2431,2525];
  genes.forEach(function(gn,r){
    const rg=grp('violin-row-'+gn.toLowerCase(),g);
    const by=base[r],top=by-85,sc=85/geneMax[r];
    mk('line',{x1:X0,y1:top,x2:X0,y2:by+3,stroke:'#333'},rg);
    mk('line',{x1:X0-4,y1:top,x2:X0,y2:top,stroke:'#333'},rg);
    txt(X0-6,top+6,gn+' '+geneMax[r],{'font-size':16,'text-anchor':'end',fill:'#222'},rg);
    for(let c=0;c<16;c++){
      [[odH,odWd,'#f8766d',-10],[ydH,ydWd,'#0e8a8a',10]].forEach(function(s){
        const h=s[0][r][c]*sc,wd=s[1][r][c];
        if(h<=0)return;
        const cx=X0+(c+0.5)*gw+s[3];
        const pts=[];const N=24;
        for(let k=0;k<=N;k++){const t=k/N;let f;if(t<0.8){f=wd*Math.pow(Math.sin(Math.PI*(0.08+0.92*t/0.8)*0.62),0.8);}else{f=wd*0.35*(1-(t-0.8)/0.2);}f=Math.max(0.5,f);pts.push([f,by-t*h]);}
        let d='M'+cx+','+by;
        pts.forEach(function(p){d+=' L'+(cx+p[0])+','+p[1];});
        for(let k=pts.length-1;k>=0;k--)d+=' L'+(cx-pts[k][0])+','+pts[k][1];
        d+=' Z';
        const v=mk('path',{d:d,fill:s[2],stroke:'#333','stroke-width':0.8},rg);
        
        
      });
    }
    mk('line',{x1:X0,y1:by+1,x2:X1,y2:by+1,stroke:'#888','stroke-width':3},rg);
  });
  for(let c=0;c<16;c++){const x=X0+(c+0.5)*gw+5;const t=txt(x,2538,cells[c],{'font-size':15,'text-anchor':'end',fill:'#222',transform:'rotate(-90 '+x+' 2538)'},g);}
  const lg=grp('violin-legend',g);
  mk('rect',{x:1850,y:2170,width:16,height:22,fill:'#f8766d',stroke:'#333'},lg);txt(1870,2187,'OD7',{'font-size':17,fill:'#222'},lg);
  mk('rect',{x:1850,y:2194,width:16,height:22,fill:'#0e8a8a',stroke:'#333'},lg);txt(1870,2212,'YD7',{'font-size':17,fill:'#222'},lg);
})();
</script>
</body></html>
